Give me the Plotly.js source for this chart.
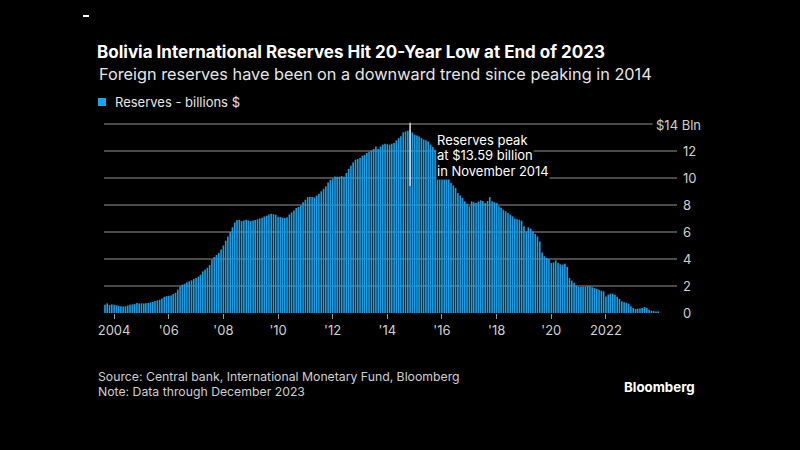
<!DOCTYPE html>
<html>
<head>
<meta charset="utf-8">
<script src="https://cdn.plot.ly/plotly-3.0.1.min.js"></script>
<style>
  html, body { margin: 0; padding: 0; background: #000; }
  #chart { width: 800px; height: 450px; }
</style>
</head>
<body>
<div id="chart"></div>
<script>
// ---- Data (billions of US$), monthly, Sep 2003 - Dec 2023 ----
const startYear = 2003;
const startMonth = 9; // September
const r2003 = [0.62, 0.71, 0.60, 0.64];
const r2004 = [0.62, 0.57, 0.54, 0.50, 0.49, 0.50, 0.55, 0.61, 0.64, 0.66, 0.74, 0.70];
const r2005 = [0.72, 0.71, 0.73, 0.74, 0.79, 0.82, 0.89, 0.94, 0.99, 1.08, 1.20, 1.25];
const r2006 = [1.28, 1.30, 1.40, 1.50, 1.73, 1.97, 2.10, 2.17, 2.27, 2.35, 2.42, 2.52];
const r2007 = [2.59, 2.70, 2.84, 3.08, 3.20, 3.35, 3.55, 3.95, 4.15, 4.30, 4.45, 4.70];
const r2008 = [5.00, 5.35, 5.67, 6.00, 6.35, 6.71, 6.88, 6.90, 6.80, 6.85, 6.90, 6.85];
const r2009 = [6.80, 6.85, 6.88, 6.95, 7.00, 7.05, 7.15, 7.21, 7.30, 7.36, 7.32, 7.28];
const r2010 = [7.13, 7.10, 7.06, 7.04, 7.10, 7.30, 7.45, 7.60, 7.78, 7.85, 7.95, 8.20];
const r2011 = [8.39, 8.59, 8.60, 8.60, 8.55, 8.70, 8.84, 9.01, 9.20, 9.38, 9.67, 9.87];
const r2012 = [9.95, 10.12, 10.10, 10.10, 10.15, 10.10, 10.37, 10.67, 10.90, 11.16, 11.36, 11.40];
const r2013 = [11.48, 11.65, 11.70, 11.85, 11.95, 12.05, 12.15, 12.34, 12.15, 12.34, 12.47, 12.54];
const r2014 = [12.50, 12.47, 12.54, 12.60, 12.79, 12.95, 13.10, 13.38, 13.45, 13.50, 13.59, 13.38];
const r2015 = [13.20, 13.15, 13.08, 12.96, 12.85, 12.79, 12.70, 12.47, 12.30, 12.10, 11.70, 11.30];
const r2016 = [10.70, 10.37, 10.20, 10.00, 9.63, 9.45, 9.26, 8.89, 8.70, 8.52, 8.27, 8.10];
const r2017 = [7.90, 8.27, 8.20, 8.15, 8.25, 8.35, 8.30, 8.15, 8.30, 8.59, 8.27, 8.20];
const r2018 = [8.15, 7.90, 7.80, 7.65, 7.53, 7.40, 7.28, 7.16, 7.00, 6.95, 6.91, 6.83];
const r2019 = [6.42, 6.04, 6.34, 6.25, 6.04, 5.85, 5.67, 5.30, 4.49, 4.20, 4.07, 4.00];
const r2020 = [3.70, 3.75, 3.90, 3.70, 3.60, 3.58, 3.65, 3.40, 2.59, 2.40, 2.25, 2.02];
const r2021 = [1.93, 1.93, 1.95, 1.93, 1.98, 1.98, 1.90, 1.85, 1.78, 1.73, 1.65, 1.60];
const r2022 = [1.23, 1.36, 1.43, 1.43, 1.36, 1.20, 1.04, 0.86, 0.79, 0.75, 0.69, 0.50];
const r2023 = [0.37, 0.30, 0.32, 0.33, 0.37, 0.44, 0.38, 0.24, 0.17, 0.15, 0.12, 0.12];

const peakDate = '2014-11-01';
const peakValue = 13.59;

const xTickVals = ['2004-01-01','2006-01-01','2008-01-01','2010-01-01','2012-01-01',
                   '2014-01-01','2016-01-01','2018-01-01','2020-01-01','2022-01-01'];
const xTickText = ['2004', "'06", "'08", "'10", "'12", "'14", "'16", "'18", "'20", '2022'];
const yTickVals = [0, 2, 4, 6, 8, 10, 12, 14];
const yTickText = ['0', '2', '4', '6', '8', '10', '12', ''];
const peakNote = ['Reserves peak', 'at $' + peakValue.toFixed(2) + ' billion', 'in November 2014'];

// ---- Build series ----
const reserves = [].concat(r2003, r2004, r2005, r2006, r2007, r2008, r2009, r2010, r2011,
  r2012, r2013, r2014, r2015, r2016, r2017, r2018, r2019, r2020, r2021, r2022, r2023);
const dates = reserves.map((v, i) => {
  const mIdx = startMonth - 1 + i;
  const y = startYear + Math.floor(mIdx / 12);
  const m = (mIdx % 12) + 1;
  return y + '-' + String(m).padStart(2, '0') + '-01';
});

// ---- Geometry helpers (pixel -> paper) ----
const W = 800, H = 450;
const mL = 104, mR = 123, mT = 120, mB = 137;
const pw = W - mL - mR, ph = H - mT - mB;
const px = x => (x - mL) / pw;
const py = y => (H - mB - y) / ph;

const FONT = 'Inter, "Liberation Sans", Arial, sans-serif';

const trace = {
  type: 'bar',
  x: dates,
  y: reserves,
  marker: { color: '#1a9fe6', line: { width: 0 } },
  hoverinfo: 'x+y',
  showlegend: false
};

// drawn bottom line first so upper lines' boxes don't clip descenders
const noteLines = peakNote.map((t, i) => ({
  xref: 'paper', yref: 'paper', x: px(436), y: py(140 + i * 15.3),
  xanchor: 'left', yanchor: 'middle', align: 'left',
  bgcolor: '#000000', borderpad: 0,
  text: t, showarrow: false, font: { family: FONT, size: 13, color: '#ffffff' }
})).reverse();

const layout = {
  width: W, height: H,
  paper_bgcolor: '#000', plot_bgcolor: '#000',
  margin: { l: mL, r: mR, t: mT, b: mB, pad: 0 },
  bargap: 0.22,
  font: { family: FONT, color: '#ffffff' },
  title: {
    text: '<b>Bolivia International Reserves Hit 20-Year Low at End of 2023</b>',
    font: { family: FONT, size: 17, color: '#ffffff' },
    xref: 'container', yref: 'container',
    x: 97 / W, xanchor: 'left',
    y: 1 - 52 / H, yanchor: 'middle'
  },
  xaxis: {
    type: 'date',
    range: ['2003-08-19', '2024-08-08'],
    tickvals: xTickVals, ticktext: xTickText,
    ticks: 'outside', ticklen: 5, tickwidth: 1, tickcolor: '#9a9a9a',
    tickfont: { family: FONT, size: 13, color: '#d0d0d0' },
    showgrid: false, zeroline: false, showline: false,
    fixedrange: true
  },
  yaxis: {
    side: 'right',
    range: [0, ph / 13.5],
    tickvals: yTickVals, ticktext: yTickText,
    ticks: '',
    tickfont: { family: FONT, size: 13, color: '#d0d0d0' },
    ticklabelstandoff: 5,
    showgrid: true, gridcolor: '#4a4a4a', gridwidth: 1.5,
    zeroline: false, showline: false,
    fixedrange: true
  },
  shapes: [
    { type: 'line', xref: 'x', yref: 'y', x0: peakDate, x1: peakDate, y0: 9.4, y1: 14.1,
      line: { color: '#dcdcdc', width: 1.5 } },
    { type: 'rect', xref: 'paper', yref: 'paper', x0: px(98), x1: px(106), y0: py(106), y1: py(98),
      fillcolor: '#14a6f0', line: { width: 0 } },
    { type: 'rect', xref: 'paper', yref: 'paper', x0: px(83), x1: px(89), y0: py(17), y1: py(15),
      fillcolor: '#ffffff', line: { width: 0 } }
  ],
  annotations: [
    { xref: 'paper', yref: 'paper', x: px(97), y: py(74), xanchor: 'left', yanchor: 'middle',
      text: 'Foreign reserves have been on a downward trend since peaking in 2014',
      showarrow: false, font: { family: FONT, size: 16.3, color: '#e6e6e6' } },
    { xref: 'paper', yref: 'paper', x: px(113), y: py(102), xanchor: 'left', yanchor: 'middle',
      text: 'Reserves - billions $',
      showarrow: false, font: { family: FONT, size: 13, color: '#e6e6e6' } },
    { xref: 'paper', yref: 'paper', x: px(652), y: py(125), xanchor: 'left', yanchor: 'middle',
      text: '$14 Bln', bgcolor: '#000000', borderpad: 3,
      showarrow: false, font: { family: FONT, size: 13, color: '#d0d0d0' } },
    ...noteLines,
    { xref: 'paper', yref: 'paper', x: px(96), y: py(376.5), xanchor: 'left', yanchor: 'middle',
      text: 'Source: Central bank, International Monetary Fund, Bloomberg',
      showarrow: false, font: { family: FONT, size: 12.25, color: '#cfcfcf' } },
    { xref: 'paper', yref: 'paper', x: px(96), y: py(391), xanchor: 'left', yanchor: 'middle',
      text: 'Note: Data through December 2023',
      showarrow: false, font: { family: FONT, size: 12.25, color: '#cfcfcf' } },
    { xref: 'paper', yref: 'paper', x: px(697), y: py(387), xanchor: 'right', yanchor: 'middle',
      text: '<b>Bloomberg</b>',
      showarrow: false, font: { family: FONT, size: 13.3, color: '#ffffff' } }
  ]
};

Plotly.newPlot('chart', [trace], layout, { displayModeBar: false, staticPlot: true });
</script>
</body>
</html>
